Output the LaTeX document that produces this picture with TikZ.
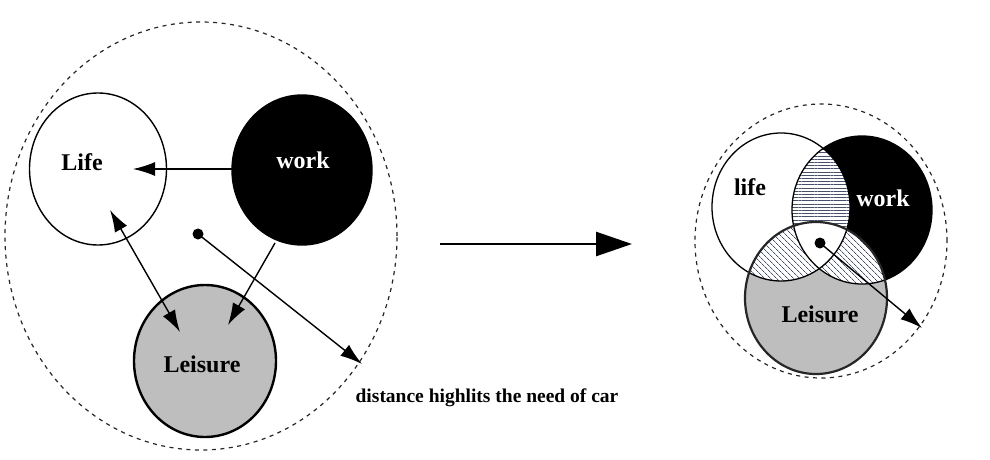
\documentclass[tikz,border=0pt]{standalone}
\usepackage{fontspec}
\setmainfont{Liberation Serif}
\usetikzlibrary{shapes.geometric,arrows.meta,patterns.meta}
\definecolor{leisgray}{RGB}{190,190,190}
\definecolor{hatchc}{RGB}{70,80,105}
\tikzset{
  ring/.style={ellipse, inner sep=0pt, draw=black, line width=1.4pt},
  dashring/.style={ellipse, inner sep=0pt, draw=black!85, line width=1.2pt, dash pattern=on 4pt off 4.5pt},
  lbl/.style={font=\bfseries\fontsize{24}{24}\selectfont, inner sep=0pt},
  conn/.style={line width=1.4pt, -{Latex[length=22pt,width=14pt]}},
  dconn/.style={line width=1.4pt, {Latex[length=22pt,width=14pt]}-{Latex[length=22pt,width=14pt]}},
  dotnode/.style={circle, fill=black, inner sep=0pt, minimum size=11pt},
  lifeR/.style={insert path={(781,207) ellipse [x radius=69pt, y radius=74pt]}},
  workR/.style={insert path={(862,210) ellipse [x radius=70pt, y radius=74pt]}},
  leisR/.style={insert path={(816,298) ellipse [x radius=71pt, y radius=76pt]}},
}
\begin{document}
\begin{tikzpicture}[x=1pt,y=-1pt]
\useasboundingbox (0,0) rectangle (990,460);
% ---------- left diagram ----------
\node[dashring, minimum width=392pt, minimum height=428pt] (outerL) at (201,236) {};
\node[ring, fill=white, minimum width=137pt, minimum height=152pt] (lifeL) at (98,169) {};
\node[ring, fill=black, minimum width=140pt, minimum height=150pt] (workL) at (302,170) {};
\node[ring, fill=leisgray, line width=2.4pt, minimum width=142pt, minimum height=152pt] (leisL) at (205,361) {};
\node[lbl] (lifeT) at (82,162) {Life};
\node[lbl, text=white] (workT) at (303,160) {work};
\node[lbl] (leisT) at (202,364) {Leisure};
\node[dotnode] (dotL) at (198,234) {};
\coordinate (wl0) at (232,169);
\coordinate (wl1) at (133,169);
\coordinate (ll0) at (110,210);
\coordinate (ll1) at (180,332);
\coordinate (ws0) at (275,243);
\coordinate (ws1) at (228,325);
\coordinate (dd1) at (362,364);
\draw[conn] (wl0) -- (wl1);
\draw[dconn] (ll0) -- (ll1);
\draw[conn] (ws0) -- (ws1);
\draw[conn] (dotL.center) -- (dd1);
\node[font=\bfseries\fontsize{19.5}{20}\selectfont, inner sep=0pt] (distT) at (487,398) {distance highlits the need of car};
% ---------- big arrow ----------
\coordinate (bigA) at (440,244);
\coordinate (bigB) at (632,244);
\draw[line width=2.6pt, -{Triangle[length=36pt,width=24pt]}] (bigA) -- (bigB);
% ---------- right diagram ----------
\node[dashring, minimum width=252pt, minimum height=274pt] (outerR) at (821,241) {};
\fill[white, lifeR];
\fill[black, workR];
\fill[leisgray, leisR];
\begin{scope}
  \clip[lifeR];
  \fill[white, workR];
  \fill[pattern={Lines[distance=3.2pt, line width=0.8pt]}, pattern color=hatchc, workR];
\end{scope}
\begin{scope}
  \clip[leisR];
  \fill[white, lifeR];
  \fill[white, workR];
  \fill[pattern={Lines[angle=-45, distance=4pt, line width=0.8pt]}, pattern color=hatchc, lifeR];
  \fill[pattern={Lines[angle=-45, distance=4pt, line width=0.8pt]}, pattern color=hatchc, workR];
\end{scope}
\begin{scope}
  \clip[lifeR];
  \clip[workR];
  \fill[white, leisR];
\end{scope}
\draw[line width=1.3pt, lifeR];
\draw[line width=1.3pt, workR];
\draw[line width=2.2pt, draw=black!85, leisR];
\node[lbl] (lifeRT) at (750,187) {life};
\node[lbl, text=white] (workRT) at (883,198) {work};
\node[lbl] (leisRT) at (820,314) {Leisure};
\node[dotnode] (dotR) at (820,243) {};
\coordinate (dr1) at (922,328);
\draw[conn] (dotR.center) -- (dr1);
\end{tikzpicture}
\end{document}
